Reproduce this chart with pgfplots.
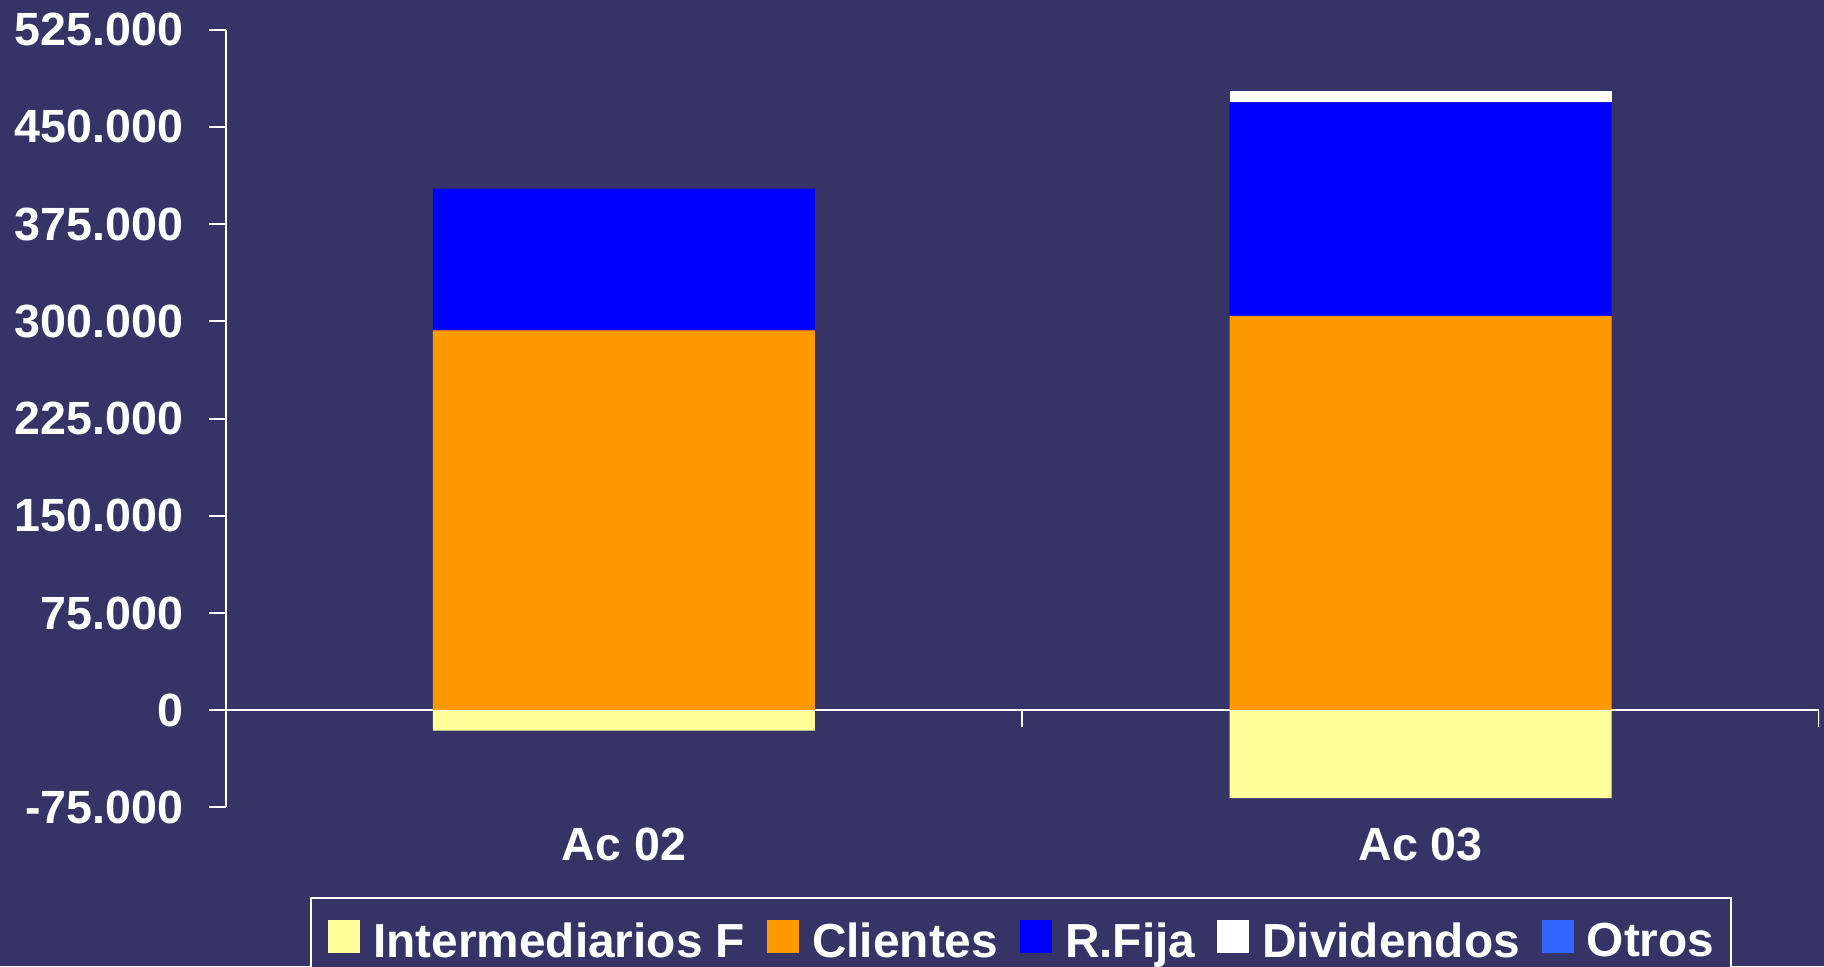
\documentclass[border=0pt]{standalone}
\usepackage{fontspec}
\setmainfont{Liberation Sans}
\usepackage{pgfplots}
\pgfplotsset{compat=1.18}
\definecolor{bgc}{RGB}{54,52,103}
\definecolor{cInter}{RGB}{255,255,153}
\definecolor{cCli}{RGB}{255,153,0}
\definecolor{cRF}{RGB}{0,0,255}
\definecolor{cDiv}{RGB}{255,255,255}
\definecolor{cOtr}{RGB}{51,102,255}
\newcommand{\lblfont}{\bfseries\fontsize{23.3}{27}\selectfont}
\newcommand{\legfont}{\bfseries\fontsize{23.9}{28}\selectfont}
\begin{document}
\begin{tikzpicture}
\fill[bgc] (0pt,0pt) rectangle (912pt,-483pt);
\pgfplotsset{common/.style={
  at={(112.75pt,-403.7pt)}, anchor=south west,
  scale only axis, width=796.75pt, height=388.85pt,
  xmin=-0.5, xmax=1.5, ymin=-75000, ymax=525000,
  bar width=191pt,
}}
% negative series (not stacked)
\begin{axis}[common, hide axis, ybar, bar shift=0pt]
\addplot[fill=cInter, draw=none] coordinates {(0,-15700) (1,-67900)};
\end{axis}
% positive stacked series
\begin{axis}[common, ybar stacked,
  axis y line=left, axis x line=bottom,
  y axis line style={-, white, line width=1pt},
  x axis line style={draw=none},
  scaled y ticks=false,
  xtick={0,1}, xticklabels={Ac 02, Ac 03},
  xtick style={draw=none},
  ytick={-75000,0,75000,150000,225000,300000,375000,450000,525000},
  yticklabels={-75.000,0,75.000,150.000,225.000,300.000,375.000,450.000,525.000},
  ytick style={white, line width=1pt},
  tick align=outside, major tick length=8pt,
  ticklabel style={font=\lblfont, text=white, inner sep=0pt},
  yticklabel style={anchor=east, xshift=-13pt},
  xticklabel style={anchor=north, yshift=-2pt},
  legend columns=5,
  legend style={at={(0.4994,-0.1152)}, anchor=north, draw=white, line width=1pt,
    fill=bgc, font=\legfont, text=white, inner xsep=8.5pt, inner ysep=11pt,
    nodes={inner sep=0pt},
    /tikz/every odd column/.append style={column sep=6.5pt},
    /tikz/every even column/.append style={column sep=11pt}},
  legend image code/.code={\fill[#1] (0pt,-5.8pt) rectangle (16pt,10.7pt);},
]
\addlegendimage{fill=cInter, draw=none}
\addplot[fill=cCli, draw=none] coordinates {(0,293000) (1,304300)};
\addplot[fill=cRF, draw=none] coordinates {(0,109500) (1,164600)};
\addplot[fill=cDiv, draw=none] coordinates {(0,0) (1,9200)};
\addplot[fill=cOtr, draw=none] coordinates {(0,0) (1,0)};
\legend{Intermediarios F, Clientes, R.Fija, Dividendos, Otros}
\draw[white, line width=1pt] (axis cs:-0.5,0) -- (axis cs:1.5,0);
\draw[white, line width=1pt] (axis cs:0.5,0) -- ++(0pt,-8.5pt);
\draw[white, line width=1pt] (axis cs:1.5,0) -- ++(0pt,-8.5pt);
\end{axis}
\pgfresetboundingbox
\path[use as bounding box] (0pt,0pt) rectangle (912pt,-483pt);
\end{tikzpicture}
\end{document}
